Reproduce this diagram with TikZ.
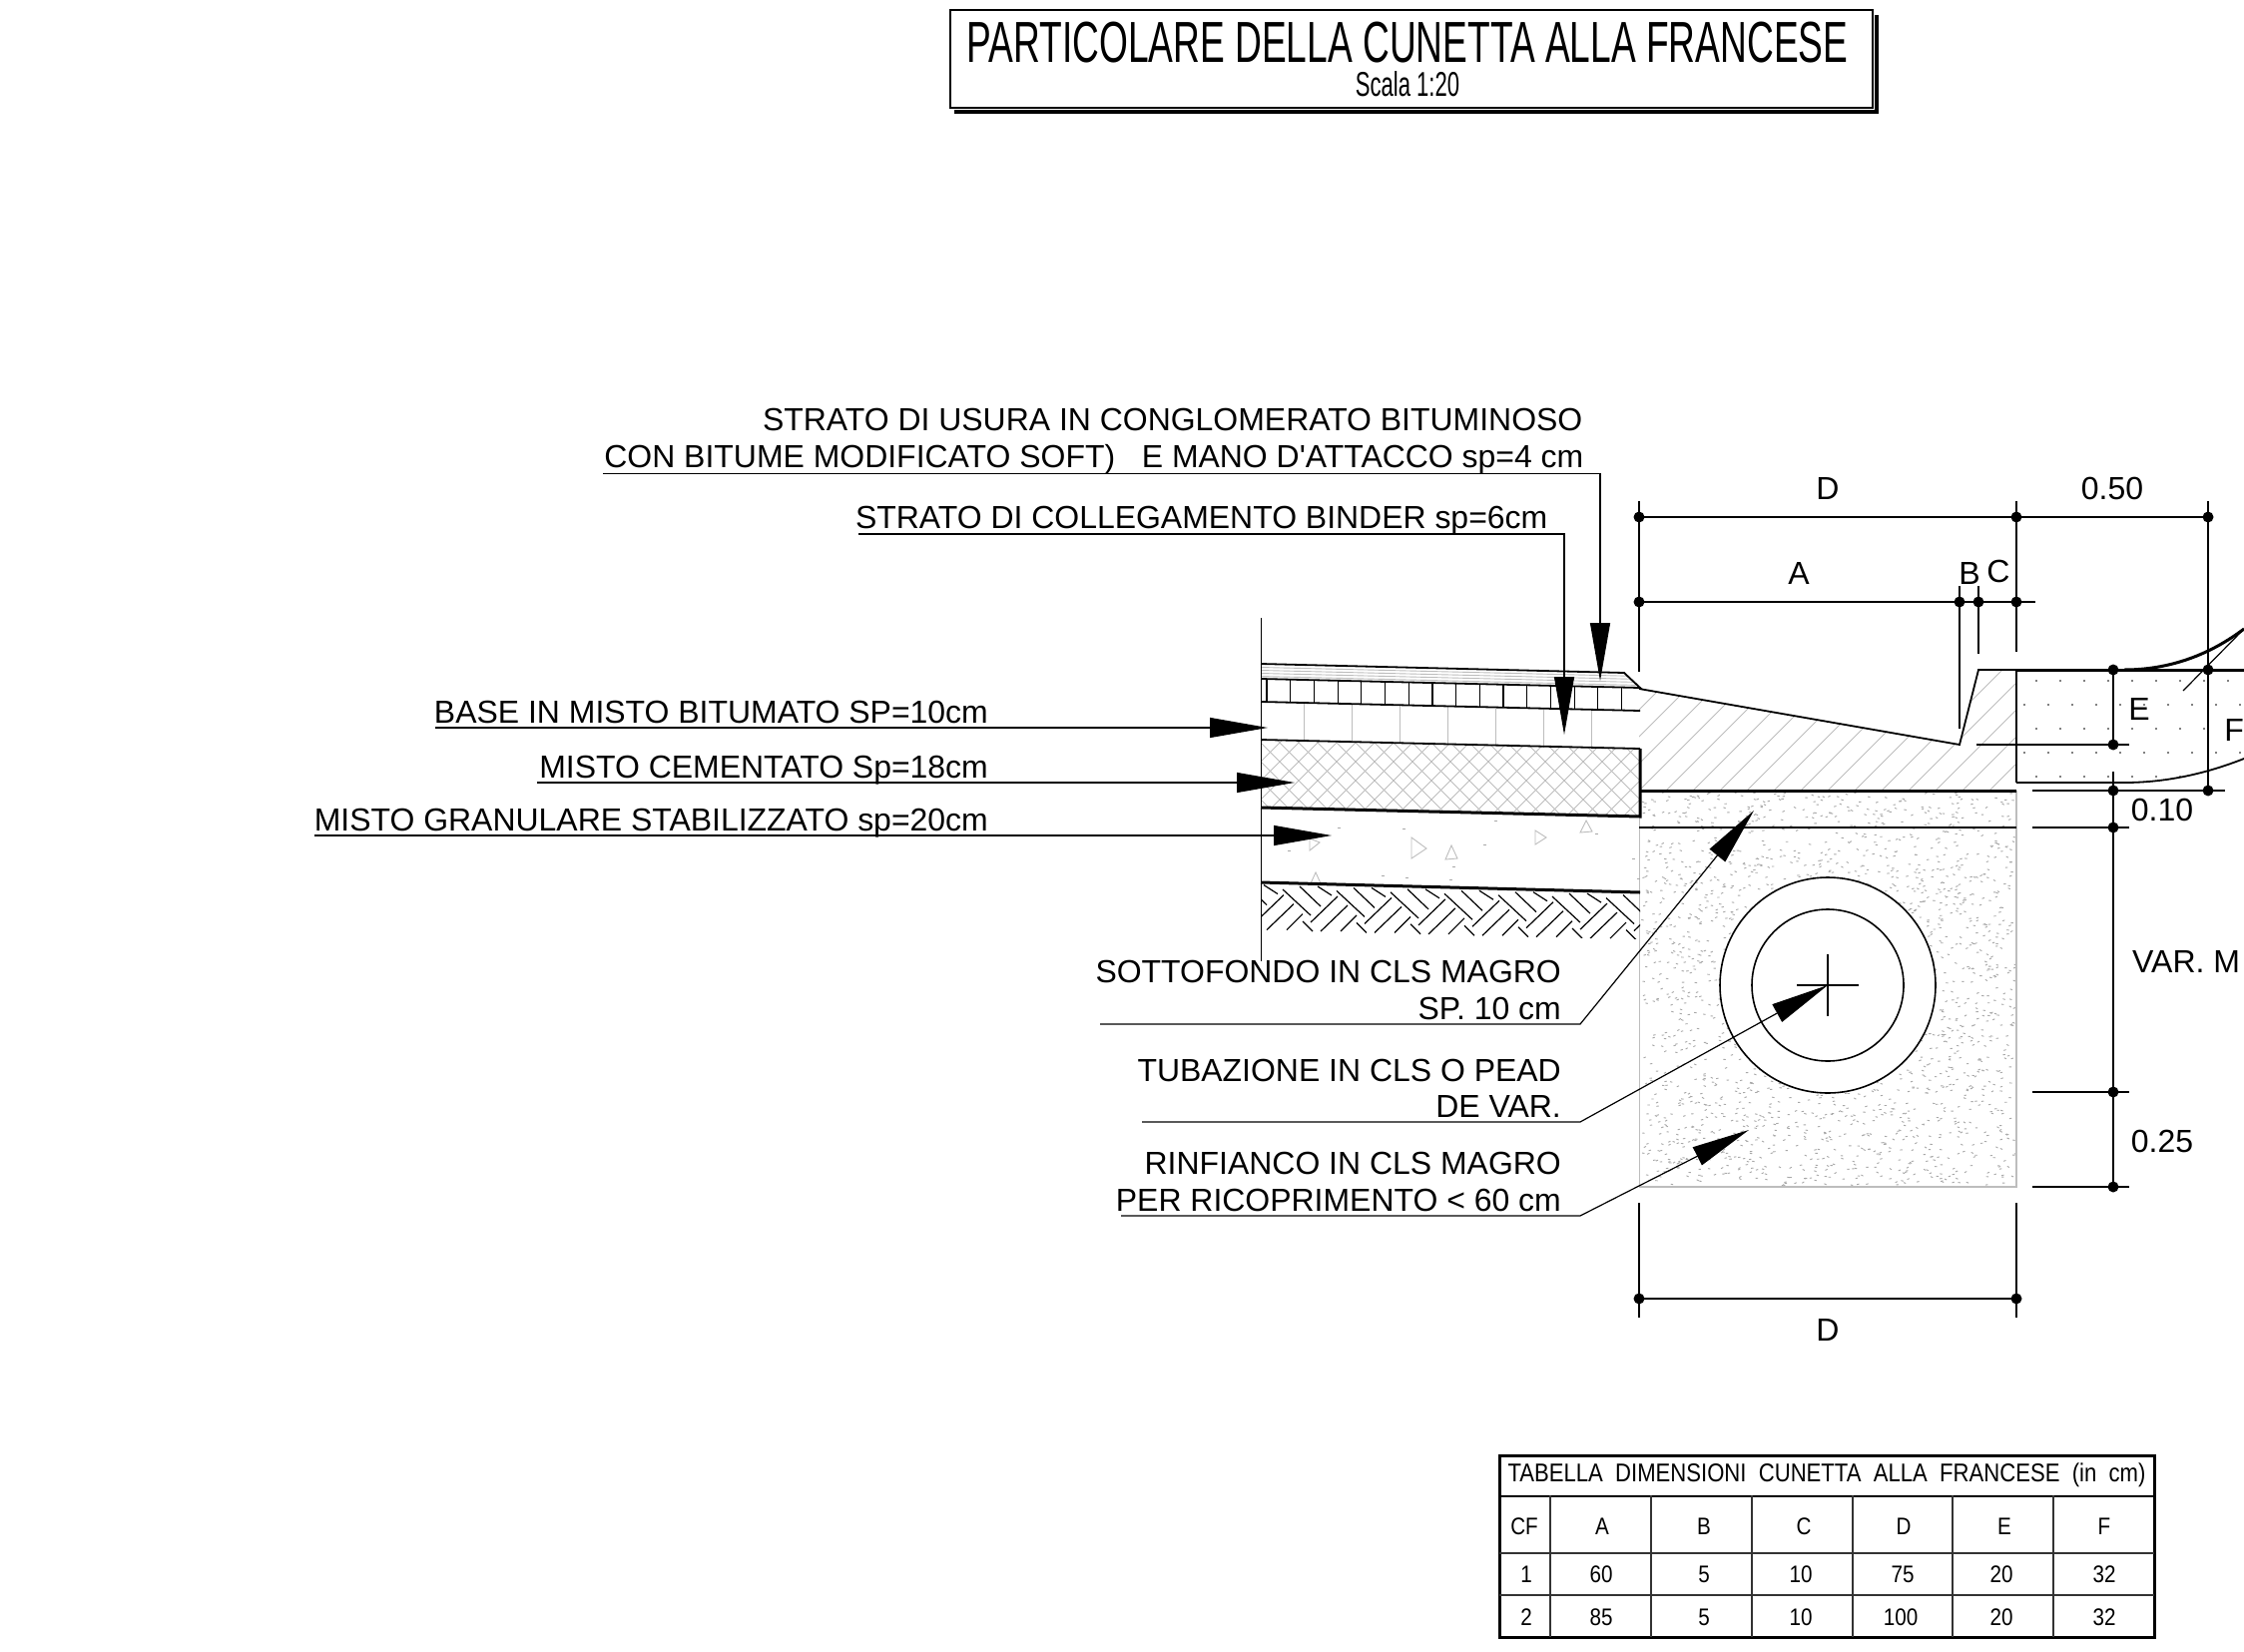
\documentclass[tikz,border=0pt]{standalone}
\usepackage{fontspec}
\usetikzlibrary{arrows.meta}
\setmainfont{Liberation Sans}
\newfontfamily\narrowfont[FakeStretch=0.64]{Liberation Sans}
\newfontfamily\tabfont[FakeStretch=0.86]{Liberation Sans}
\definecolor{hatchgray}{gray}{0.74}
\definecolor{speckgray}{gray}{0.66}
\tikzset{
  thinline/.style={line width=1.2pt,black},
  midline/.style={line width=1.8pt,black},
  thickline/.style={line width=3pt,black},
  hatch/.style={line width=0.9pt,hatchgray},
  leader/.style={line width=1.2pt,black,-{Triangle[length=58pt,width=20pt]}},
  label/.style={inner sep=0pt,anchor=base east,font=\fontsize{31.95}{36}\selectfont},
  dimlabel/.style={inner sep=0pt,anchor=center,font=\fontsize{32}{36}\selectfont},
  dimdot/.style={circle,fill=black,inner sep=0pt,minimum size=11pt},
  tabline/.style={line width=1.3pt,black!80},
  tabframe/.style={line width=3pt,black},
  tabtext/.style={inner sep=0pt,anchor=center,font=\tabfont\fontsize{24}{28}\selectfont},
}
\begin{document}
\begin{tikzpicture}[x=1pt,y=-1pt]
\useasboundingbox (0,0) rectangle (2248,1654);
\fill[white] (0,0) rectangle (2248,1654);

% title
\draw[line width=3.2pt] (956,112) -- (1880,112) -- (1880,15);
\node[draw=black,fill=white,line width=1.4pt,minimum width=924pt,minimum height=98pt,inner sep=0pt] (titlebox) at (1414,59) {};
\node[inner sep=0pt,anchor=base] (title) at (1410,63) {\narrowfont\fontsize{58}{60}\selectfont PARTICOLARE DELLA CUNETTA ALLA FRANCESE};
\node[inner sep=0pt,anchor=base] (scala) at (1410,96) {\narrowfont\fontsize{34.5}{36}\selectfont Scala 1:20};

% speckled concrete block
\pgfmathsetseed{4711}
\foreach \i in {1,...,2200}{
  \pgfmathsetmacro\xx{1644+rnd*374}
  \pgfmathsetmacro\yy{794+rnd*393}
  \pgfmathsetmacro\ang{rnd*60-30}
  \fill[speckgray,rotate around={\ang:(\xx,\yy)}] (\xx,\yy) rectangle ++(2.4,0.9);
}
\draw[hatch,line width=1.6pt] (1642.5,792) -- (1642.5,1189) -- (2020,1189) -- (2020,792);

% pipe
\node[circle,draw=black,fill=white,line width=1.6pt,minimum size=216pt,inner sep=0pt] (pipeout) at (1831,987) {};
\node[circle,draw=black,fill=white,line width=1.6pt,minimum size=152pt,inner sep=0pt] (pipein) at (1831,987) {};
\draw[thinline] (1800,987) -- (1862,987) (1831,956) -- (1831,1018);

% gutter hatch
\begin{scope}
\clip (1642,690) -- (1963,746) -- (1982,671) -- (2020,671) -- (2020,792) -- (1642,792) -- cycle;
\foreach \k in {-6,...,16}{
  \draw[hatch] (1642+\k*27,792) -- ++(140,-140);
}
\end{scope}
\draw[midline] (1642,690) -- (1963,746) -- (1982,671) -- (2020,671);
\draw[thinline] (2020,671) -- (2020,784);
\draw[thickline] (1642,792) -- (2020,792);
\draw[thinline] (1642,829) -- (2020,829);

% shoulder dots
\begin{scope}
\clip (2020,671) -- (2248,671) -- (2248,760) .. controls (2200,778) and (2160,784) .. (2128,784) -- (2020,784) -- cycle;
\foreach \rw/\off in {682/2040,706/2028,730/2040,754/2028,778/2040}{
  \foreach \k in {0,...,9}{
    \fill[black] (\off+\k*24,\rw) circle (0.9);
  }
}
\end{scope}
\draw[thickline] (2020,671) -- (2248,671);
\draw[thickline] (2128,671) .. controls (2175,671) and (2215,655) .. (2248,630);
\draw[midline] (2020,784) -- (2128,784) .. controls (2170,784) and (2210,775) .. (2248,760);
\draw[thinline] (2187,692) -- (2248,630);

% road layers
\begin{scope}
\clip (1263,665) -- (1627,674) -- (1643,689) -- (1263,680) -- cycle;
\foreach \d in {3.5,6.5,9.5,12.5}{ \draw[hatch] (1263,665+\d) -- (1643,674+\d); }
\end{scope}
\foreach \k in {0,...,15}{ \draw[thinline] (1269+\k*23.7,680.5+\k*0.56) -- ++(0,22.6); }
\foreach \k in {0,...,6}{ \draw[hatch] (1306+\k*48,705+\k*1.13) -- ++(0,38); }
\begin{scope}
\clip (1263,741) -- (1643,750) -- (1643,818) -- (1263,809) -- cycle;
\foreach \k in {-8,...,30}{
  \draw[hatch] (1263+\k*19,820) -- ++(90,-90);
  \draw[hatch] (1263+\k*19,820) -- ++(-90,-90);
}
\end{scope}
\foreach \t/\a/\b/\c/\d/\e/\f in {1312/840/1322/844/1312/852,1414/839/1429/850/1414/860,1454/847/1460/860/1448/861,1538/832/1549/839/1538/846,1589/822/1595/833/1583/834,1318/874/1323/885/1313/885}{
  \draw[hatch] (\t,\a) -- (\b,\c) -- (\d,\e) -- cycle;
}
\foreach \xx/\yy in {1290/852,1340/829,1405/830,1497/822,1486/846,1598/835,1384/877,1408/879,1452/881,1455/868,1635/860,1640/880}{
  \fill[speckgray] (\xx,\yy) rectangle ++(2.5,1.2);
}
\begin{scope}
\clip (1263,884) -- (1643,894) -- (1643,941) -- (1263,934) -- cycle;
\foreach \k in {-2,...,7}{
  \pgfmathsetmacro\sx{\k*54}
  \pgfmathsetmacro\sy{\k*54*0.0263}
  \begin{scope}[shift={(\sx,\sy)}]
  \draw[thinline] (1285,891) -- (1313,917) (1302,888) -- (1323,908) (1320,888) -- (1334,897)
     (1313,924) -- (1340,898) (1323,933) -- (1350,907) (1343,933) -- (1359,917) (1305,923) -- (1315,933);
  \end{scope}
}
\end{scope}
\draw[thinline] (1263.5,619) -- (1263.5,963);
\draw[midline] (1263,665) -- (1627,674) -- (1643,689) -- (1263,680);
\draw[midline] (1263,703) -- (1643,712);
\draw[midline] (1263,741) -- (1643,750);
\draw[thickline] (1263,809) -- (1643,818) -- (1643,750);
\draw[thickline] (1263,884) -- (1643,894);

% dimensions top
\node[dimdot] (dA) at (1642,518) {};
\node[dimdot] (dB) at (2020,518) {};
\node[dimdot] (dC) at (2212,518) {};
\node[dimdot] (aA) at (1642,603) {};
\node[dimdot] (aB) at (1963,603) {};
\node[dimdot] (aC) at (1982,603) {};
\node[dimdot] (aD) at (2020,603) {};
\coordinate (aEnd) at (2039,603);
\draw[thinline] (dA.center) -- (dB.center) -- (dC.center);
\draw[thinline] (aA.center) -- (aB.center) -- (aC.center) -- (aD.center) -- (aEnd);
\draw[thinline] (1642,502) -- (1642,673);
\draw[thinline] (2020,502) -- (2020,653);
\draw[thinline] (2212,502) -- (2212,797);
\draw[thinline] (1963,587) -- (1963,730);
\draw[thinline] (1982,587) -- (1982,655);
\node[dimlabel] (lD) at (1831,489) {D};
\node[dimlabel] (l050) at (2116,489) {0.50};
\node[dimlabel] (lA) at (1802,574) {A};
\node[dimlabel] (lB) at (1973,574) {B};
\node[dimlabel] (lC) at (2002,572) {C};

% dimensions right
\node[dimdot] (e1) at (2117,671) {};
\node[dimdot] (e2) at (2117,746) {};
\node[dimdot] (e3) at (2117,792) {};
\node[dimdot] (e4) at (2117,829) {};
\node[dimdot] (e5) at (2117,1094) {};
\node[dimdot] (e6) at (2117,1189) {};
\node[dimdot] (f1) at (2212,671) {};
\node[dimdot] (f2) at (2212,792) {};
\coordinate (eGap) at (2117,773);
\draw[thinline] (e1.center) -- (e2.center);
\draw[thinline] (eGap) -- (e3.center) -- (e4.center) -- (e5.center) -- (e6.center);
\draw[thinline] (1980,746) -- (2133,746);
\draw[thinline] (2036,792) -- (2229,792);
\draw[thinline] (2036,829) -- (2133,829);
\draw[thinline] (2036,1094) -- (2133,1094);
\draw[thinline] (2036,1189) -- (2133,1189);
\node[dimlabel] (lE) at (2143,710) {E};
\node[dimlabel] (lF) at (2238,731) {F};
\node[dimlabel] (l010) at (2166,811) {0.10};
\node[dimlabel,anchor=west] (lVar) at (2136,963) {VAR. M};
\node[dimlabel] (l025) at (2166,1143) {0.25};

% dimension bottom
\node[dimdot] (b1) at (1642,1301) {};
\node[dimdot] (b2) at (2020,1301) {};
\draw[thinline] (b1.center) -- (b2.center);
\draw[thinline] (1642,1205) -- (1642,1320);
\draw[thinline] (2020,1205) -- (2020,1320);
\node[dimlabel] (lD2) at (1831,1332) {D};

% left leaders
\node[label] (s1) at (1585.5,431) {STRATO DI USURA IN CONGLOMERATO BITUMINOSO};
\node[label] (s2) at (1586.5,468) {CON BITUME MODIFICATO SOFT)\ \ \ E MANO D\textquotesingle ATTACCO sp=4 cm};
\coordinate (s0) at (604,474.5);
\coordinate (s3) at (1603,474.5);
\coordinate (s4) at (1603,682);
\draw[leader] (s0) -- (s3) -- (s4);
\node[label] (b0) at (1550.5,529) {STRATO DI COLLEGAMENTO BINDER sp=6cm};
\coordinate (ba) at (860,535);
\coordinate (bb) at (1567,535);
\coordinate (bc) at (1567,736);
\draw[leader] (ba) -- (bb) -- (bc);
\node[label] (c0) at (990,724) {BASE IN MISTO BITUMATO SP=10cm};
\coordinate (ca) at (436,729);
\coordinate (cb) at (1270,729);
\draw[leader] (ca) -- (cb);
\node[label] (d0) at (990,779) {MISTO CEMENTATO Sp=18cm};
\coordinate (da) at (538,784);
\coordinate (db) at (1297,784);
\draw[leader] (da) -- (db);
\node[label] (g0) at (990,832) {MISTO GRANULARE STABILIZZATO sp=20cm};
\coordinate (ga) at (315,837);
\coordinate (gb) at (1334,837);
\draw[leader] (ga) -- (gb);

% lower leaders
\node[label] (m1) at (1564,984) {SOTTOFONDO IN CLS MAGRO};
\node[label] (m2) at (1564,1021) {SP. 10 cm};
\coordinate (ma) at (1102,1026);
\coordinate (mb) at (1583,1026);
\coordinate (mc) at (1757,812);
\draw[leader] (ma) -- (mb) -- (mc);
\node[label] (t1) at (1564,1083) {TUBAZIONE IN CLS O PEAD};
\node[label] (t2) at (1564,1119) {DE VAR.};
\coordinate (ta) at (1144,1124);
\coordinate (tb) at (1583,1124);
\coordinate (tc) at (1831,987);
\draw[leader] (ta) -- (tb) -- (tc);
\node[label] (r1) at (1564,1176) {RINFIANCO IN CLS MAGRO};
\node[label] (r2) at (1564,1213) {PER RICOPRIMENTO < 60 cm};
\coordinate (ra) at (1123,1218);
\coordinate (rb) at (1583,1218);
\coordinate (rc) at (1752,1132);
\draw[leader] (ra) -- (rb) -- (rc);

% table
\draw[tabframe] (1502,1458) rectangle (2158,1640);
\draw[tabframe,line width=2pt] (1502,1499) -- (2158,1499);
\draw[tabline,line width=2pt] (1502,1556) -- (2158,1556) (1502,1598) -- (2158,1598);
\foreach \xx in {1553,1654,1755,1856,1956,2057}{ \draw[tabline] (\xx,1498) -- (\xx,1640); }
\node[tabtext,font=\tabfont\fontsize{25.7}{28}\selectfont] (tabt) at (1830,1478) {TABELLA\ \ DIMENSIONI\ \ CUNETTA\ \ ALLA\ \ FRANCESE\ \ (in\ \ cm)};
\foreach \n/\xx/\yy/\tt in {a/1527/1529/CF,b/1605/1529/A,c/1707/1529/B,d/1807/1529/C,e/1907/1529/D,f/2008/1529/E,g/2108/1529/F,
  h/1529/1577/1,i/1604/1577/60,j/1707/1577/5,k/1804/1577/10,l/1906/1577/75,m/2005/1577/20,n/2108/1577/32,
  o/1529/1620/2,p/1604/1620/85,q/1707/1620/5,r/1804/1620/10,s/1904/1620/100,t/2005/1620/20,u/2108/1620/32}{
  \node[tabtext] (cell\n) at (\xx,\yy) {\tt};
}
\end{tikzpicture}
\end{document}
